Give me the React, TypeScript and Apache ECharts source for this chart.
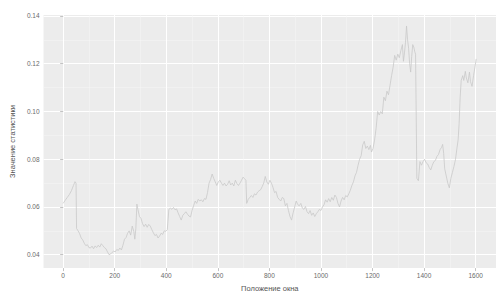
import React, { useEffect, useRef } from "react";
import * as echarts from "echarts";

const windowPositions = [
  0, 8, 16, 24, 32, 40, 46, 50, 52, 58, 64, 70, 76, 82, 88, 94, 100, 106, 112, 118, 124, 130, 136, 142, 148, 154, 160, 166, 172, 178, 184, 190, 196, 202, 208, 214, 220, 226, 232, 238, 244, 250, 256, 262, 268, 274, 278, 282, 286, 290, 296, 302, 308, 314, 320, 326, 332, 338, 344, 350, 356, 362, 368, 374, 380, 386, 392, 398, 404, 410, 416, 422, 428, 434, 440, 446, 452, 458, 464, 470, 476, 482, 488, 494, 500, 506, 512, 518, 524, 530, 536, 542, 548, 554, 560, 566, 572, 578, 584, 590, 596, 602, 608, 614, 620, 626, 632, 638, 644, 650, 656, 662, 668, 674, 680, 686, 692, 698, 704, 709, 712, 718, 724, 730, 736, 742, 748, 754, 760, 766, 772, 778, 784, 790, 796, 802, 808, 814, 820, 826, 832, 838, 844, 850, 856, 862, 868, 874, 880, 886, 892, 898, 904, 910, 916, 922, 928, 934, 940, 946, 952, 958, 964, 970, 976, 982, 988, 994, 1000, 1006, 1012, 1018, 1024, 1030, 1036, 1042, 1048, 1054, 1060, 1066, 1072, 1078, 1084, 1090, 1096, 1102, 1108, 1114, 1120, 1126, 1132, 1138, 1144, 1150, 1156, 1162, 1168, 1174, 1180, 1186, 1192, 1196, 1202, 1208, 1214, 1220, 1226, 1232, 1238, 1244, 1250, 1256, 1262, 1268, 1274, 1280, 1286, 1292, 1298, 1304, 1310, 1316, 1320, 1324, 1328, 1332, 1336, 1340, 1344, 1348, 1352, 1356, 1360, 1364, 1367, 1372, 1378, 1384, 1390, 1396, 1402, 1408, 1414, 1420, 1426, 1432, 1438, 1444, 1450, 1456, 1462, 1468, 1472, 1476, 1480, 1486, 1492, 1498, 1504, 1510, 1516, 1522, 1528, 1532, 1536, 1540, 1544, 1550, 1554, 1560, 1564, 1570, 1576, 1580, 1586, 1592, 1598, 1602,
];

const statisticValues = [
  0.0615, 0.0628, 0.064, 0.0652, 0.0668, 0.069, 0.0706, 0.07, 0.051, 0.05, 0.0488, 0.047, 0.0462, 0.0448, 0.0438, 0.0442, 0.043, 0.0428, 0.0436, 0.0425, 0.0437, 0.043, 0.044, 0.0432, 0.0446, 0.0438, 0.043, 0.0425, 0.0412, 0.04, 0.0403, 0.041, 0.0415, 0.0412, 0.0422, 0.0418, 0.0428, 0.042, 0.044, 0.0465, 0.0472, 0.049, 0.05, 0.0482, 0.052, 0.0498, 0.0465, 0.051, 0.0612, 0.059, 0.056, 0.0552, 0.053, 0.0518, 0.0528, 0.0515, 0.0527, 0.052, 0.0505, 0.0492, 0.048, 0.0485, 0.047, 0.0478, 0.049, 0.0485, 0.05, 0.0498, 0.0505, 0.059, 0.0595, 0.059, 0.0598, 0.0588, 0.0592, 0.0575, 0.056, 0.0545, 0.0565, 0.0572, 0.058, 0.057, 0.0562, 0.0558, 0.0585, 0.0605, 0.0625, 0.0615, 0.0632, 0.0625, 0.063, 0.0622, 0.0635, 0.0632, 0.066, 0.07, 0.0715, 0.0738, 0.072, 0.0705, 0.069, 0.0705, 0.0712, 0.07, 0.069, 0.07, 0.0688, 0.0695, 0.071, 0.0692, 0.07, 0.0688, 0.0712, 0.0698, 0.069, 0.07, 0.0712, 0.0725, 0.0718, 0.0712, 0.0615, 0.0632, 0.064, 0.0648, 0.064, 0.0655, 0.065, 0.0662, 0.0668, 0.0672, 0.0685, 0.07, 0.0728, 0.0705, 0.0695, 0.0712, 0.07, 0.0682, 0.066, 0.0665, 0.064, 0.0632, 0.0625, 0.064, 0.0635, 0.0605, 0.0615, 0.0585, 0.056, 0.0545, 0.0575, 0.06, 0.0625, 0.061, 0.0605, 0.0615, 0.0595, 0.059, 0.0602, 0.058, 0.0572, 0.0585, 0.0565, 0.0575, 0.056, 0.0572, 0.058, 0.059, 0.0585, 0.06, 0.061, 0.063, 0.062, 0.0635, 0.0622, 0.064, 0.0628, 0.065, 0.064, 0.0615, 0.06, 0.0625, 0.064, 0.063, 0.0648, 0.0642, 0.0655, 0.067, 0.069, 0.0705, 0.073, 0.0745, 0.0775, 0.08, 0.0815, 0.086, 0.0875, 0.0845, 0.0855, 0.084, 0.0858, 0.083, 0.0845, 0.088, 0.093, 0.1, 0.0985, 0.1, 0.099, 0.106, 0.1045, 0.1085, 0.107, 0.111, 0.115, 0.1185, 0.1235, 0.1215, 0.124, 0.1225, 0.1255, 0.128, 0.121, 0.1245, 0.129, 0.1358, 0.13, 0.1265, 0.12, 0.1165, 0.123, 0.128, 0.127, 0.125, 0.124, 0.072, 0.071, 0.079, 0.0775, 0.079, 0.08, 0.0785, 0.078, 0.0765, 0.0755, 0.0775, 0.079, 0.0795, 0.0812, 0.082, 0.084, 0.085, 0.0862, 0.0825, 0.076, 0.073, 0.07, 0.068, 0.072, 0.0745, 0.077, 0.08, 0.085, 0.088, 0.095, 0.106, 0.113, 0.115, 0.113, 0.1168, 0.114, 0.112, 0.1165, 0.1125, 0.1105, 0.115, 0.119, 0.122, 0.121,
];

const xMajorTicks = [0, 200, 400, 600, 800, 1000, 1200, 1400, 1600];
const xMinorTicks = [100, 300, 500, 700, 900, 1100, 1300, 1500];
const yMajorTicks = [0.04, 0.06, 0.08, 0.1, 0.12, 0.14];
const yMinorTicks = [0.05, 0.07, 0.09, 0.11, 0.13];

const X_MIN = -76;
const X_MAX = 1679;
const Y_MIN = 0.0344;
const Y_MAX = 0.1404;

const FONT = "'Liberation Sans', Arial, sans-serif";

export default function App() {
  const ref = useRef<HTMLDivElement | null>(null);

  useEffect(() => {
    if (!ref.current) return;
    const chart = echarts.init(ref.current, null, { renderer: "svg" });
    const data = windowPositions.map((x, i) => [x, statisticValues[i]]);

    chart.setOption({
      animation: false,
      backgroundColor: "#ffffff",
      grid: {
        left: 32,
        right: 4,
        top: 15,
        bottom: 24,
        show: true,
        backgroundColor: "#ececec",
        borderWidth: 0,
      },
      xAxis: [
        {
          type: "value",
          min: X_MIN,
          max: X_MAX,
          axisLine: { show: false },
          axisTick: {
            show: true,
            customValues: xMajorTicks,
            length: 3,
            lineStyle: { color: "#9a9a9a", width: 0.6 },
          },
          axisLabel: {
            customValues: xMajorTicks,
            fontSize: 6.5,
            color: "#6a6a6a",
            fontFamily: FONT,
            margin: 4,
            formatter: (v: number) => String(Math.round(v)),
          },
          splitLine: { show: true, lineStyle: { color: "#ffffff", width: 1 } },
          name: "Положение окна",
          nameLocation: "middle",
          nameGap: 11,
          nameTextStyle: { fontSize: 7.5, color: "#555555", fontFamily: FONT },
        },
        {
          type: "value",
          min: X_MIN,
          max: X_MAX,
          position: "bottom",
          axisLine: { show: false },
          axisTick: { show: false, customValues: xMinorTicks },
          axisLabel: { show: false, customValues: xMinorTicks },
          splitLine: { show: true, lineStyle: { color: "#f7f7f7", width: 0.5 } },
        },
      ],
      yAxis: [
        {
          type: "value",
          min: Y_MIN,
          max: Y_MAX,
          axisLine: { show: false },
          axisTick: {
            show: true,
            customValues: yMajorTicks,
            length: 3,
            lineStyle: { color: "#9a9a9a", width: 0.6 },
          },
          axisLabel: {
            customValues: yMajorTicks,
            fontSize: 6.5,
            color: "#6a6a6a",
            fontFamily: FONT,
            margin: 4,
            formatter: (v: number) => v.toFixed(2),
          },
          splitLine: { show: true, lineStyle: { color: "#ffffff", width: 1 } },
          name: "Значение статистики",
          nameLocation: "middle",
          nameGap: 21,
          nameTextStyle: { fontSize: 7.5, color: "#555555", fontFamily: FONT },
        },
        {
          type: "value",
          min: Y_MIN,
          max: Y_MAX,
          position: "left",
          axisLine: { show: false },
          axisTick: { show: false, customValues: yMinorTicks },
          axisLabel: { show: false, customValues: yMinorTicks },
          splitLine: { show: true, lineStyle: { color: "#f7f7f7", width: 0.5 } },
        },
      ],
      series: [
        {
          type: "line",
          xAxisIndex: 0,
          yAxisIndex: 0,
          data,
          showSymbol: false,
          symbol: "none",
          lineStyle: { color: "#c9c9c9", width: 0.8 },
          z: 5,
        },
      ],
    });

    return () => chart.dispose();
  }, []);

  return (
    <div
      ref={ref}
      style={{ position: "fixed", left: 0, top: 0, width: 500, height: 297 }}
    />
  );
}
